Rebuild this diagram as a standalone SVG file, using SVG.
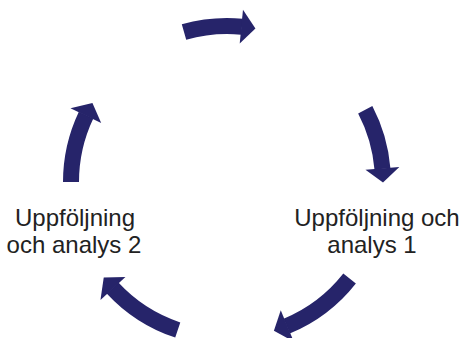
<svg xmlns="http://www.w3.org/2000/svg" width="464" height="338" viewBox="0 0 464 338">
  <style>
    .body { fill: none; stroke: #26246a; stroke-width: 16; stroke-linecap: butt; }
    .head { fill: #26246a; stroke: none; }
    .label { font-family: "Liberation Sans", Arial, sans-serif; font-size: 24px; fill: #222222; text-anchor: middle; }
  </style>
  <defs>
    <polygon id="arrowhead" class="head" points="139,-0.6 173,-0.6 155.4,13.6"/>
  </defs>
  <g id="connectors">
    <g id="arrow-top" transform="translate(227 182) rotate(-84.5)">
      <path class="body" d="M145.15,-57.17 A156,156 0 0 1 156,0"/>
      <use href="#arrowhead"/>
    </g>
    <g id="arrow-right" transform="translate(227 182) rotate(-4.8)">
      <path class="body" d="M143.81,-60.45 A156,156 0 0 1 156,0"/>
      <use href="#arrowhead"/>
    </g>
    <g id="arrow-bottom-right" transform="translate(227 182) rotate(67.5)">
      <path class="body" d="M136.04,-76.34 A156,156 0 0 1 156,0"/>
      <use href="#arrowhead"/>
    </g>
    <g id="arrow-bottom-left" transform="translate(227 182) rotate(137.2)">
      <path class="body" d="M136.70,-75.15 A156,156 0 0 1 156,0"/>
      <use href="#arrowhead"/>
    </g>
    <g id="arrow-left" transform="translate(227 182) rotate(205.4)">
      <path class="body" d="M140.92,-66.91 A156,156 0 0 1 156,0"/>
      <use href="#arrowhead"/>
    </g>
  </g>
  <g id="node-analys-1">
    <text class="label" x="377" y="226">Uppföljning och</text>
    <text class="label" x="372" y="253">analys 1</text>
  </g>
  <g id="node-analys-2">
    <text class="label" x="75" y="226">Uppföljning</text>
    <text class="label" x="74" y="253">och analys 2</text>
  </g>
</svg>
